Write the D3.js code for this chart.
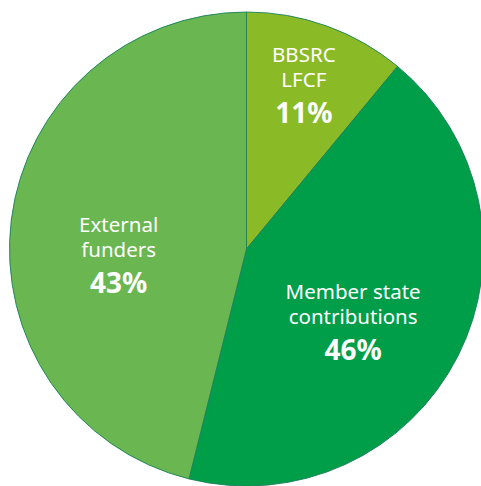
<!DOCTYPE html>
<html>
<head>
<meta charset="utf-8">
<script src="https://cdn.jsdelivr.net/npm/d3@7"></script>
<style>
  html, body { margin: 0; padding: 0; background: #ffffff; }
  svg { display: block; }
</style>
</head>
<body>
<svg id="chart" width="481" height="486"></svg>
<script>
// ---- data ----
const categories = ["BBSRC LFCF", "Member state contributions", "External funders"];
const nameLines = [["BBSRC", "LFCF"], ["Member state", "contributions"], ["External", "funders"]];
// angular share of each slice as drawn
const sliceValues = [11, 42.9, 46.1];
// percentage text printed on each slice
const percentLabels = ["11%", "46%", "43%"];
const colors = ["#8bba27", "#009e49", "#6ab651"];

// ---- layout ----
const width = 481, height = 486;
const cx = 246.5, cy = 249, radius = 237;
// label placement: radius and angle offset (radians) relative to slice mid-angle
const labelPlacement = [
  { r: 174, dAngle: -0.01 },
  { r: 129, dAngle: 0.13 },
  { r: 128, dAngle: -0.168 }
];

const svg = d3.select("#chart");
const g = svg.append("g").attr("transform", `translate(${cx},${cy})`);

const pie = d3.pie().sort(null).value(d => d)(sliceValues);
const arc = d3.arc().innerRadius(0).outerRadius(radius);

g.selectAll("path.slice")
  .data(pie)
  .enter().append("path")
  .attr("class", "slice")
  .attr("d", arc)
  .attr("fill", (d, i) => colors[i])
  .attr("stroke", "#17805a")
  .attr("stroke-width", 0.9)
  .attr("stroke-linejoin", "round");

const labels = g.selectAll("g.label")
  .data(pie)
  .enter().append("g")
  .attr("class", "label")
  .attr("transform", (d, i) => {
    const p = labelPlacement[i];
    const a = (d.startAngle + d.endAngle) / 2 + p.dAngle;
    return `translate(${p.r * Math.sin(a)},${-p.r * Math.cos(a)})`;
  });

labels.each(function(d, i) {
  const sel = d3.select(this);
  const lines = nameLines[i];
  const lineH = 25.5;
  const pctGap = 35.5;
  const blockH = 15 + (lines.length - 1) * lineH + pctGap;
  const top = -blockH / 2 + 15;
  lines.forEach((t, k) => {
    sel.append("text")
      .attr("x", 0)
      .attr("y", top + k * lineH)
      .attr("text-anchor", "middle")
      .attr("fill", "#ffffff")
      .style("font-family", "'Noto Sans', 'Open Sans', sans-serif")
      .style("font-size", "20.5px")
      .style("font-weight", 400)
      .text(t);
  });
  sel.append("text")
    .attr("x", 0)
    .attr("y", top + (lines.length - 1) * lineH + pctGap)
    .attr("text-anchor", "middle")
    .attr("fill", "#ffffff")
    .style("font-family", "'Noto Sans', 'Open Sans', sans-serif")
    .style("font-size", "28px")
    .style("font-weight", 700)
    .text(percentLabels[i]);
});
</script>
</body>
</html>
